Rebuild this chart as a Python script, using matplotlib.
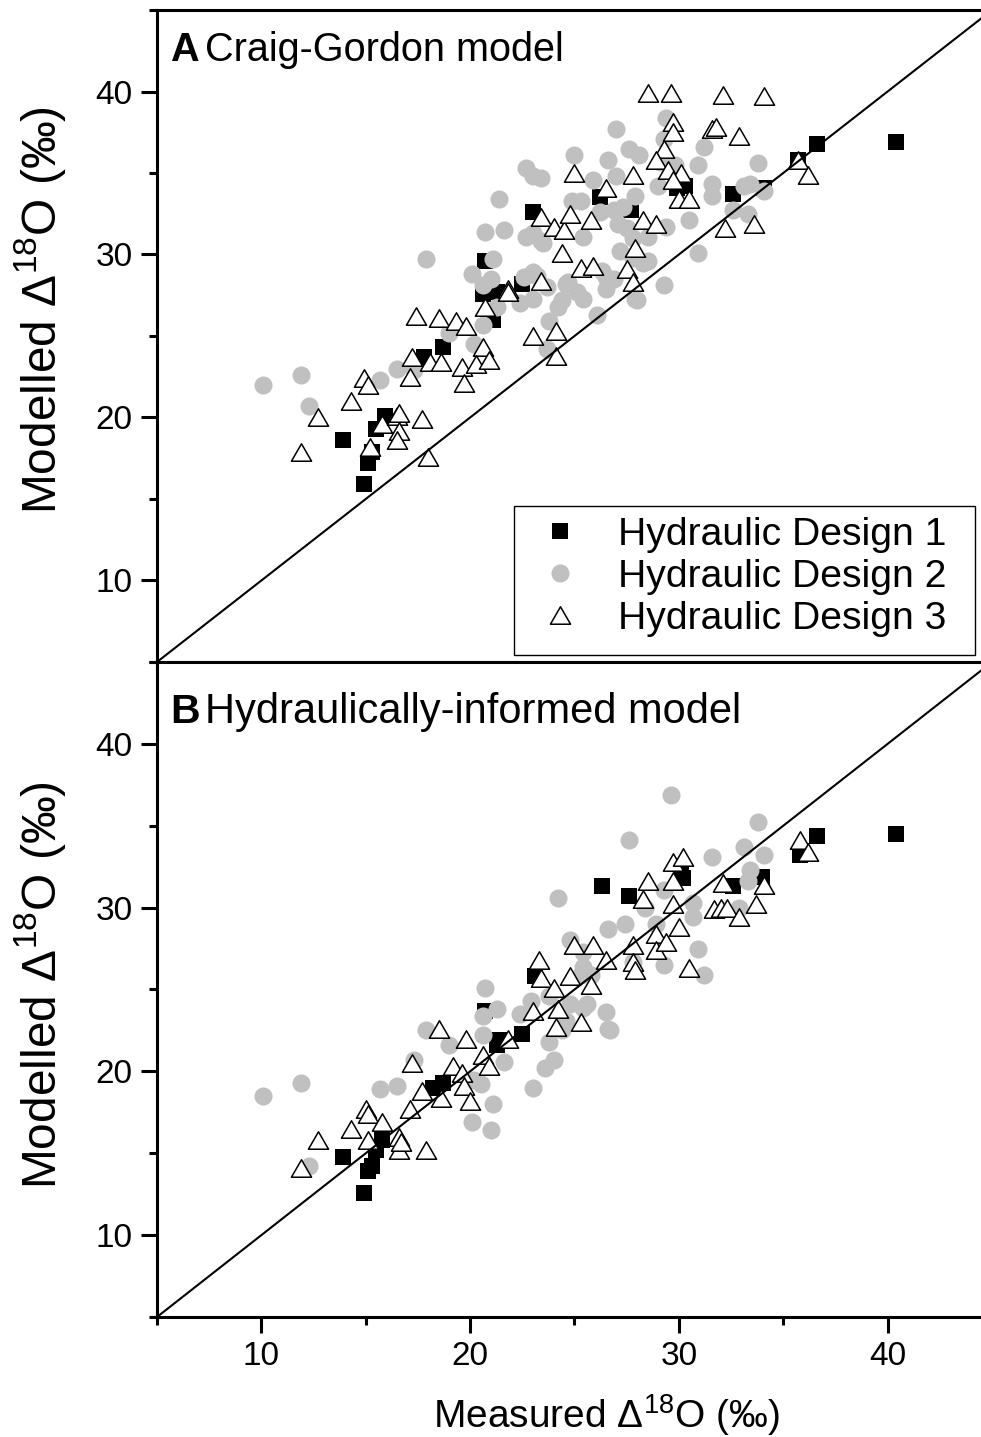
import numpy as np
import matplotlib
matplotlib.use("Agg")
import matplotlib.pyplot as plt
from matplotlib.path import Path
from matplotlib.patches import Rectangle
from matplotlib.ticker import MultipleLocator

plt.rcParams['font.family'] = ['Liberation Sans', 'DejaVu Sans']
plt.rcParams['mathtext.fontset'] = 'custom'
plt.rcParams['mathtext.rm'] = 'Liberation Sans'
plt.rcParams['mathtext.it'] = 'Liberation Sans:italic'
plt.rcParams['mathtext.bf'] = 'Liberation Sans:bold'

# ---- data: panel A (Craig-Gordon model) ----
a_d1_x = [13.9, 14.9, 15.1, 15.3, 15.5, 15.9, 17.8, 18.7, 20.6, 20.7, 21.3, 21.1, 22.5, 23.0,
          26.2, 27.7, 29.9, 30.3, 32.6, 34.1, 35.7, 36.6, 40.4]
a_d1_y = [18.6, 15.9, 17.2, 17.9, 19.3, 20.1, 23.7, 24.3, 27.6, 29.6, 27.7, 26.0, 28.2, 32.6,
          33.5, 32.7, 34.1, 34.2, 33.7, 34.1, 35.8, 36.8, 36.9]

a_d2_x = [10.1, 11.9, 12.3, 15.7, 16.5, 17.3, 19.0, 17.9, 20.2, 21.0, 22.4, 23.0, 23.2, 22.7,
          23.5, 25.4, 24.4, 23.8, 23.7, 24.6, 25.1, 25.4, 26.1, 26.3, 26.9, 28.3, 28.0,
          20.1, 20.7, 21.6, 21.4, 21.1, 20.6, 21.3, 20.6, 22.7, 23.4, 23.0, 23.0, 23.4, 22.6,
          23.0, 23.7, 24.2, 24.7, 25.0, 25.3, 24.9, 26.5, 25.9, 26.6, 27.0, 26.2, 26.9, 27.3,
          27.1, 27.5, 27.2, 27.9, 27.8, 28.5, 27.8, 28.5, 27.0, 27.6, 28.1, 26.5, 27.9, 29.3,
          29.4, 29.1, 29.3, 29.4, 29.8, 29.0, 30.5, 30.9, 30.9, 31.2, 31.6, 31.6, 32.6, 33.1,
          33.4, 33.3, 34.1, 33.8]
a_d2_y = [22.0, 22.6, 20.7, 22.3, 23.0, 22.9, 25.2, 29.7, 24.5, 28.5, 27.0, 27.3, 28.7, 31.1,
          30.7, 31.1, 27.2, 25.9, 24.2, 28.2, 27.7, 27.3, 26.3, 29.0, 28.5, 29.5, 27.2,
          28.8, 31.4, 31.5, 33.4, 29.7, 28.1, 26.8, 25.7, 35.3, 34.7, 34.8, 31.3, 30.8, 28.6,
          28.9, 28.0, 26.8, 28.3, 36.1, 33.3, 33.3, 27.9, 34.6, 35.8, 34.8, 32.6, 32.7, 32.9,
          31.9, 31.6, 30.2, 33.6, 31.0, 31.1, 29.8, 29.6, 37.7, 36.5, 36.1, 28.6, 27.3, 28.1,
          31.7, 35.7, 37.1, 38.4, 35.5, 34.2, 32.1, 30.1, 35.5, 36.6, 34.3, 33.6, 32.7, 34.2,
          34.3, 32.5, 33.9, 35.6]

a_d3_x = [11.9, 12.7, 14.3, 14.9, 15.1, 15.2, 15.8, 16.5, 16.6, 16.6, 16.5, 17.7, 17.1, 17.2,
          18.0, 18.1, 18.6, 17.4, 18.5, 19.3, 19.8, 19.6, 19.7, 20.6, 20.3, 20.9, 20.7, 21.8,
          21.8, 23.4, 23.0, 24.1, 24.1, 24.4, 25.3, 25.9, 23.4, 24.0, 24.5, 24.8, 25.8, 25.0,
          26.5, 27.8, 28.3, 28.9, 27.9, 27.5, 27.8, 28.5, 29.6, 32.1, 34.1, 29.7, 29.7, 29.3,
          28.9, 29.5, 30.1, 29.7, 30.0, 30.5, 31.6, 31.8, 32.9, 32.2, 33.6, 35.7, 36.2]
a_d3_y = [17.9, 20.0, 21.0, 22.4, 22.0, 18.2, 19.6, 20.1, 20.3, 19.2, 18.6, 19.9, 22.5, 23.7,
          17.6, 23.4, 23.4, 26.2, 26.1, 25.9, 25.6, 23.1, 22.1, 24.3, 23.3, 23.5, 26.8, 27.9,
          27.7, 28.4, 25.0, 25.3, 23.8, 30.1, 29.2, 29.3, 32.3, 31.7, 31.5, 32.5, 32.1, 35.0,
          34.1, 34.9, 32.1, 31.9, 30.4, 29.1, 28.3, 39.9, 39.9, 39.8, 39.7, 38.1, 37.5, 36.5,
          35.8, 35.2, 35.0, 34.6, 33.4, 33.4, 37.7, 37.8, 37.3, 31.6, 31.9, 35.8, 34.9]

# ---- data: panel B (hydraulically-informed model) ----
b_d1_x = [13.9, 14.9, 15.1, 15.3, 15.5, 15.8, 18.2, 18.7, 20.7, 21.3, 21.4, 22.5, 23.1, 26.3,
          27.6, 30.1, 30.2, 32.6, 34.0, 35.8, 36.6, 40.4]
b_d1_y = [14.8, 12.6, 13.9, 14.2, 15.2, 15.8, 19.0, 19.3, 23.7, 21.6, 21.9, 22.3, 25.8, 31.3,
          30.7, 32.3, 31.8, 31.3, 31.9, 33.2, 34.4, 34.5]

b_d2_x = [10.1, 11.9, 12.3, 15.7, 16.5, 17.3, 17.9, 19.0, 20.7, 21.3, 20.6, 21.6, 20.1, 21.0,
          21.1, 23.0, 23.6, 24.0, 23.8, 22.9, 22.4, 24.4, 25.4, 26.6, 25.3, 20.2, 20.6, 27.6,
          29.6, 24.2, 31.6, 33.1, 33.8, 34.1, 33.4, 33.3, 30.9, 31.2, 29.3, 26.6, 27.4, 28.9,
          29.3, 30.7, 30.7, 26.7, 26.5, 25.8, 27.8, 25.6, 24.8, 23.8, 25.4, 24.6, 24.8, 25.4,
          28.4, 32.9, 20.5]
b_d2_y = [18.5, 19.3, 14.2, 18.9, 19.1, 20.7, 22.5, 21.6, 25.1, 23.8, 23.4, 20.6, 16.9, 16.4,
          18.0, 19.0, 20.2, 20.7, 21.8, 24.3, 23.5, 22.5, 23.9, 22.6, 25.9, 19.5, 22.2, 34.1,
          36.9, 30.6, 33.1, 33.7, 35.2, 33.2, 32.3, 31.6, 27.5, 25.9, 26.5, 28.7, 29.0, 29.0,
          31.1, 30.3, 29.4, 22.5, 23.6, 25.9, 26.7, 24.1, 24.1, 24.6, 26.4, 23.1, 28.0, 27.3,
          30.0, 30.0, 19.2]

b_d3_x = [11.9, 12.7, 14.3, 15.0, 15.1, 15.1, 15.8, 16.6, 16.6, 16.7, 17.9, 17.1, 17.2, 17.7,
          18.6, 18.5, 19.2, 19.6, 19.7, 20.0, 19.8, 20.6, 20.9, 21.8, 23.0, 23.4, 24.0, 24.1,
          24.2, 24.8, 25.3, 25.8, 23.3, 25.0, 25.9, 26.5, 27.8, 27.8, 27.9, 28.9, 28.9, 29.4,
          30.0, 29.7, 28.5, 28.3, 29.7, 30.2, 29.7, 30.5, 31.7, 32.0, 32.3, 32.9, 32.1, 33.7,
          34.1, 35.8, 36.2]
b_d3_y = [14.1, 15.8, 16.5, 17.7, 17.4, 15.8, 16.9, 16.0, 15.2, 15.7, 15.2, 17.7, 20.5, 18.8,
          18.4, 22.6, 20.3, 19.9, 19.1, 18.2, 22.0, 21.0, 20.3, 22.0, 23.7, 25.7, 25.1, 22.7,
          23.8, 25.8, 23.0, 25.3, 26.8, 27.7, 27.7, 26.8, 27.7, 26.7, 26.2, 28.4, 27.4, 27.9,
          28.8, 30.2, 31.6, 30.5, 32.8, 33.1, 31.6, 26.3, 29.9, 30.0, 30.0, 29.4, 31.5, 30.2,
          31.4, 34.1, 33.4]

legend_labels = ['Hydraulic Design 1', 'Hydraulic Design 2', 'Hydraulic Design 3']

# open triangle, a bit wider than tall
tri = Path([(-1, -0.866), (1, -0.866), (0, 0.866), (-1, -0.866)], closed=True)

fig = plt.figure(figsize=(9.81, 14.37), dpi=100)
ax1 = fig.add_axes([0.16004, 0.53932, 0.85117, 0.45372])
ax2 = fig.add_axes([0.16004, 0.08351, 0.85117, 0.45581])

panels = [
    (ax1, a_d1_x, a_d1_y, a_d2_x, a_d2_y, a_d3_x, a_d3_y),
    (ax2, b_d1_x, b_d1_y, b_d2_x, b_d2_y, b_d3_x, b_d3_y),
]

for ax, x1, y1, x2, y2, x3, y3 in panels:
    ax.plot(x1, y1, ls='none', marker='s', ms=11.5, mfc='black', mec='black', mew=0,
            label=legend_labels[0], zorder=3)
    ax.plot(x2, y2, ls='none', marker='o', ms=13, mfc='#c0c0c0', mec='#c0c0c0', mew=0,
            label=legend_labels[1], zorder=4)
    ax.plot(x3, y3, ls='none', marker=tri, ms=14.5, mfc='white', mec='black', mew=1.1,
            label=legend_labels[2], zorder=5)
    ax.plot([5, 45], [5, 45], color='black', lw=1.5, zorder=6)

    ax.set_xlim(5, 45)
    ax.set_ylim(5, 45)
    ax.xaxis.set_major_locator(MultipleLocator(10))
    ax.xaxis.set_minor_locator(MultipleLocator(5))
    ax.yaxis.set_major_locator(MultipleLocator(10))
    ax.yaxis.set_minor_locator(MultipleLocator(5))
    ax.tick_params(which='major', direction='out', length=11.5, width=2.2, labelsize=24, pad=6)
    ax.tick_params(which='minor', direction='out', length=6, width=2.2)
    ax.tick_params(axis='x', top=False)
    ax.tick_params(axis='y', right=False)
    for side in ['left', 'bottom', 'top']:
        ax.spines[side].set_linewidth(2.2)
    ax.spines['right'].set_visible(False)

    ax.set_ylabel(r'Modelled $\Delta^{18}$O (‰)', fontsize=34.5)

ax1.text(0.016, 0.939, 'A', transform=ax1.transAxes, fontsize=28.5, fontweight='bold',
         va='center', ha='left')
ax1.text(0.057, 0.939, 'Craig-Gordon model', transform=ax1.transAxes, fontsize=28.5,
         va='center', ha='left')
ax2.text(0.016, 0.924, 'B', transform=ax2.transAxes, fontsize=29.5, fontweight='bold',
         va='center', ha='left')
ax2.text(0.058, 0.924, 'Hydraulically-informed model', transform=ax2.transAxes, fontsize=30,
         va='center', ha='left')

ax1.tick_params(axis='x', labelbottom=False)
ax1.yaxis.set_label_coords(-0.107, 0.54)
ax2.yaxis.set_label_coords(-0.107, 0.507)
ax2.set_xlabel(r'Measured $\Delta^{18}$O (‰)', fontsize=28)
ax2.xaxis.set_label_coords(0.538, -0.115)

# legend box drawn as a plain rectangle, entries placed inside it
box = Rectangle((0.4275, 0.0107), 0.552, 0.2285, transform=ax1.transAxes,
                facecolor='white', edgecolor='black', lw=1.0, zorder=7)
ax1.add_patch(box)
leg = ax1.legend(loc='center left', bbox_to_anchor=(0.4592, 0.1304), fontsize=28.2,
                 frameon=False, borderpad=0, borderaxespad=0, labelspacing=0.15,
                 handlelength=1.0, handletextpad=0.98)
leg.set_zorder(8)

fig.savefig('out.png', dpi=100)
